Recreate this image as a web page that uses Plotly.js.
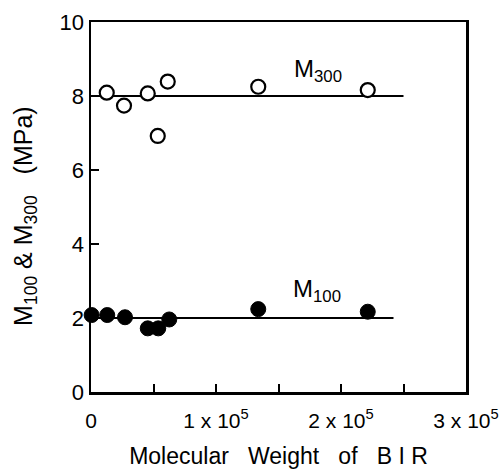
<!DOCTYPE html>
<html>
<head>
<meta charset="utf-8">
<script src="https://cdn.plot.ly/plotly-3.0.1.min.js"></script>
<style>html,body{margin:0;padding:0;background:#fff;}#chart{width:502px;height:469px;}</style>
</head>
<body>
<div id="chart"></div>
<script>
// Molecular weight of BIR (x) for each sample
const m300X = [12600, 26400, 45400, 53400, 61400, 133800, 221400];
const m300Y = [8.09, 7.74, 8.07, 6.92, 8.39, 8.25, 8.16];
const m100X = [500, 13000, 27200, 45400, 53800, 62600, 133800, 221400];
const m100Y = [2.08, 2.08, 2.02, 1.72, 1.72, 1.96, 2.24, 2.17];
// horizontal mean lines
const m300LineX = [0, 250000];
const m300LineY = [8, 8];
const m100LineX = [0, 242000];
const m100LineY = [2, 2];
const xTickVals = [0, 100000, 200000, 300000];
const xTickText = ['0', '1 x 10<sup>5</sup>', '2 x 10<sup>5</sup>', '3 x 10<sup>5</sup>'];
const yTickVals = [0, 2, 4, 6, 8, 10];

const FONT = 'Liberation Sans, Arial, Helvetica, sans-serif';
const traces = [
  {x: m300LineX, y: m300LineY, mode: 'lines', line: {color: '#000', width: 2}, hoverinfo: 'skip', cliponaxis: false},
  {x: m100LineX, y: m100LineY, mode: 'lines', line: {color: '#000', width: 2}, hoverinfo: 'skip', cliponaxis: false},
  {x: m300X, y: m300Y, mode: 'markers', cliponaxis: false,
   marker: {symbol: 'circle', size: 14, color: '#fff', line: {color: '#000', width: 2.2}}},
  {x: m100X, y: m100Y, mode: 'markers', cliponaxis: false,
   marker: {symbol: 'circle', size: 15, color: '#000', line: {color: '#000', width: 1}}}
];

const NB = '\u00a0';
const sp = n => NB.repeat(n);
const layout = {
  width: 502, height: 469,
  margin: {l: 91, r: 36, t: 22, b: 77},
  paper_bgcolor: '#fff', plot_bgcolor: '#fff',
  showlegend: false,
  font: {family: FONT, color: '#000', size: 21},
  xaxis: {
    range: [0, 300000], showgrid: false, zeroline: false,
    showline: true, linecolor: '#000', linewidth: 2.5, mirror: true,
    ticks: 'inside', ticklen: 8, tickwidth: 2, tickcolor: '#000',
    tickmode: 'array', tickvals: xTickVals, ticktext: xTickText,
    tickfont: {size: 21, family: FONT}, ticklabelstandoff: 8,
    minor: {dtick: 50000, tick0: 0, ticks: 'inside', ticklen: 8, tickwidth: 2, tickcolor: '#000', showgrid: false},
    title: {text: 'Molecular' + sp(3) + 'Weight' + sp(3) + 'of' + sp(3) + 'B' + NB + 'I' + NB + 'R', font: {size: 23, family: FONT}, standoff: 18}
  },
  yaxis: {
    range: [0, 10], showgrid: false, zeroline: false,
    showline: true, linecolor: '#000', linewidth: 2.5, mirror: true,
    ticks: 'inside', ticklen: 8, tickwidth: 2, tickcolor: '#000',
    tickmode: 'array', tickvals: yTickVals,
    tickfont: {size: 22, family: FONT}
  },
  annotations: [
    {x: -0.176, y: 0.476, xref: 'paper', yref: 'paper', xanchor: 'center', yanchor: 'middle', textangle: -90,
     text: 'M<sub>100</sub>' + sp(1) + '&' + sp(1) + 'M<sub>300</sub>' + sp(3) + '(MPa)', showarrow: false, font: {size: 25, family: FONT}},
    {x: 181600, y: 8.7, xref: 'x', yref: 'y', text: 'M<sub>300</sub>', showarrow: false, font: {size: 24, family: FONT}},
    {x: 181000, y: 2.73, xref: 'x', yref: 'y', text: 'M<sub>100</sub>', showarrow: false, font: {size: 24, family: FONT}}
  ]
};

Plotly.newPlot('chart', traces, layout, {staticPlot: true, displayModeBar: false});
</script>
</body>
</html>
